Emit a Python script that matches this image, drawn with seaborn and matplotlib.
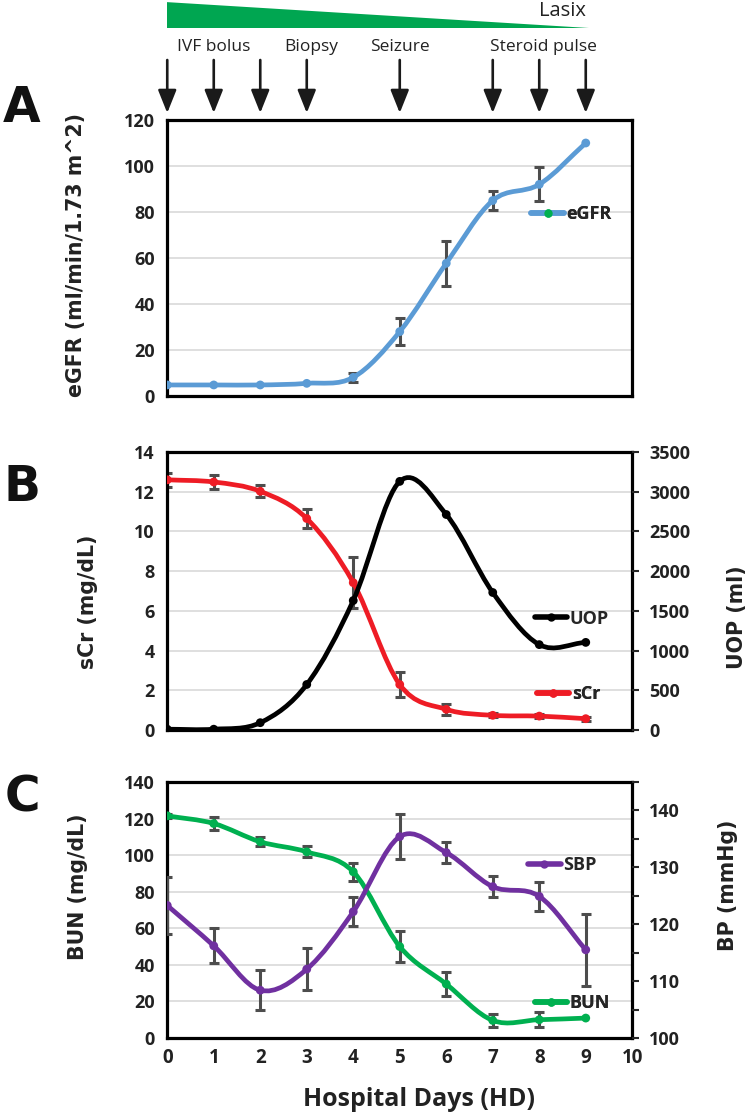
import numpy as np
import seaborn as sns
import matplotlib
matplotlib.use("Agg")
import matplotlib.pyplot as plt
from matplotlib.path import Path
from matplotlib.patches import PathPatch, Polygon
from matplotlib.lines import Line2D

# data
days = [0, 1, 2, 3, 4, 5, 6, 7, 8, 9]

egfr = [4.8, 4.8, 4.8, 5.5, 8.1, 28.0, 57.7, 85.0, 92.0, 110.0]
egfr_err = [0, 0, 0, 0, 1.8, 5.8, 9.9, 4.1, 7.4, 0]

scr = [12.6, 12.49, 12.02, 10.65, 7.42, 2.29, 1.04, 0.74, 0.70, 0.57]
scr_err = [0.36, 0.33, 0.3, 0.5, 1.29, 0.63, 0.26, 0.1, 0.1, 0.1]
uop = [10, 10, 92, 573, 1630, 3130, 2713, 1731, 1075, 1103]

bun = [121.5, 117.3, 107.3, 101.8, 90.9, 50.0, 29.5, 9.6, 10.0, 10.9]
bun_err = [1.0, 3.5, 2.5, 3.0, 5.0, 8.5, 6.8, 3.5, 4.0, 0]
sbp = [123.3, 116.2, 108.4, 112.1, 122.2, 135.4, 132.6, 126.6, 124.9, 115.5]
sbp_err = [5.0, 3.1, 3.5, 3.7, 2.6, 4.0, 1.8, 1.8, 2.5, 6.3]

arrow_days = [0, 1, 2, 3, 5, 7, 8, 9]
events = ["IVF bolus", "Biopsy", "Seizure", "Steroid pulse"]
event_days = [1.0, 3.1, 5.0, 8.1]
lasix_days = [0, 9]

sns.set_style("white")
plt.rcParams['font.family'] = ['Open Sans', 'DejaVu Sans']

c_egfr = '#5B9BD5'
c_scr = '#EE1C25'
c_uop = '#000000'
c_bun = '#00B050'
c_sbp = '#7030A0'
c_err = '#4D4D4D'
tick_col = '#222222'


def smooth_line(ax, x, y, color, lw=3.4, zorder=3):
    # excel-style smoothed line: cubic bezier through the points
    x = np.asarray(x, float)
    y = np.asarray(y, float)
    n = len(x)
    t = np.empty(n)
    t[1:-1] = (y[2:] - y[:-2]) / (x[2:] - x[:-2])
    t[0] = (y[1] - y[0]) / (x[1] - x[0])
    t[-1] = (y[-1] - y[-2]) / (x[-1] - x[-2])
    verts = [(x[0], y[0])]
    codes = [Path.MOVETO]
    for i in range(n - 1):
        h = x[i + 1] - x[i]
        verts += [(x[i] + h / 3, y[i] + t[i] * h / 3),
                  (x[i + 1] - h / 3, y[i + 1] - t[i + 1] * h / 3),
                  (x[i + 1], y[i + 1])]
        codes += [Path.CURVE4] * 3
    ax.add_patch(PathPatch(Path(verts, codes), fc='none', ec=color, lw=lw,
                           capstyle='round', joinstyle='round', zorder=zorder))


def series(ax, y, err, color, mcolor=None):
    x = np.array(days)
    y = np.array(y, float)
    if err is not None:
        e = np.array(err, float)
        m = e > 0
        ax.errorbar(x[m], y[m], yerr=e[m], fmt='none', ecolor=c_err, elinewidth=2.2,
                    capsize=3.5, capthick=2.2, zorder=2)
    smooth_line(ax, x, y, color)
    sns.scatterplot(x=x, y=y, ax=ax, color=mcolor or color, s=40, edgecolor='none',
                    zorder=4, legend=False)


def style_left(ax, ymax, step):
    ax.set_xlim(0, 10)
    ax.set_ylim(0, ymax)
    ax.set_yticks(np.arange(0, ymax + 0.01, step))
    ax.yaxis.grid(True, color='#D9D9D9', lw=1.2)
    ax.xaxis.grid(False)
    ax.set_axisbelow(True)
    for s in ax.spines.values():
        s.set_visible(True)
        s.set_color('black')
        s.set_linewidth(2.3)
    ax.tick_params(axis='y', length=0, pad=9, labelsize=13, labelcolor=tick_col)
    ax.tick_params(axis='x', length=0, pad=7, labelsize=13.5, labelcolor=tick_col)
    for lab in ax.get_yticklabels() + ax.get_xticklabels():
        lab.set_fontweight('bold')


def style_right(ax):
    for s in ax.spines.values():
        s.set_visible(False)
    ax.tick_params(axis='y', length=5, width=1.5, direction='out', pad=7, labelsize=13,
                   labelcolor=tick_col, right=True, left=False)
    for lab in ax.get_yticklabels():
        lab.set_fontweight('bold')
    ax.grid(False)


def add_legend(ax, label, color, x, y, mcolor=None):
    h = Line2D([], [], color=color, lw=4, marker='o', markersize=5,
               markerfacecolor=mcolor or color, markeredgecolor=mcolor or color)
    leg = ax.legend([h], [label], loc='center left', bbox_to_anchor=(x, y),
                    handlelength=1.8, handletextpad=0.15, borderpad=0, borderaxespad=0,
                    frameon=False, prop={'weight': 'bold', 'size': 13})
    ax.add_artist(leg)


fig = plt.figure(figsize=(7.5, 11.15), dpi=100)
L, W = 0.223, 0.620

# header: lasix taper and event arrows
axh = fig.add_axes([L, 1 - 115 / 1115, W, 115 / 1115])
axh.set_xlim(0, 10)
axh.set_ylim(115, 0)
axh.axis('off')
tri = Polygon([(lasix_days[0] - 0.04, 2), (lasix_days[0] - 0.04, 28), (lasix_days[1] + 0.06, 28)],
              closed=True, fc='#00A651', ec='none')
axh.add_patch(tri)
axh.text(lasix_days[1] - 0.5, 11, "Lasix", ha='center', va='center', fontsize=14.5, color='#222222')
for name, d in zip(events, event_days):
    axh.text(d, 47, name, ha='center', va='center', fontsize=12.5, color='#222222')
for d in arrow_days:
    axh.annotate('', xy=(d, 113), xytext=(d, 60),
                 arrowprops=dict(arrowstyle='-|>,head_length=0.7,head_width=0.28',
                                 color='#1a1a1a', lw=1.9, mutation_scale=20, shrinkA=0, shrinkB=0))

# panel A
axA = fig.add_axes([L, 1 - 396 / 1115, W, 276 / 1115])
series(axA, egfr, egfr_err, c_egfr)
style_left(axA, 120, 20)
axA.set_xticks(range(0, 11))
axA.set_xticklabels([])
add_legend(axA, "eGFR", c_egfr, 0.783, 0.66, mcolor='#00B050')

# panel B
axB = fig.add_axes([L, 1 - 730 / 1115, W, 278 / 1115])
axB2 = axB.twinx()
series(axB, scr, scr_err, c_scr)
series(axB2, uop, None, c_uop)
style_left(axB, 14, 2)
axB.set_xticks(range(0, 11))
axB.set_xticklabels([])
axB2.set_ylim(0, 3500)
axB2.set_yticks(np.arange(0, 3501, 500))
style_right(axB2)
add_legend(axB2, "UOP", c_uop, 0.79, 0.40)
add_legend(axB2, "sCr", c_scr, 0.795, 0.13)

# panel C
axC = fig.add_axes([L, 1 - 1038 / 1115, W, 256 / 1115])
axC2 = axC.twinx()
series(axC, bun, bun_err, c_bun)
series(axC2, sbp, sbp_err, c_sbp)
style_left(axC, 140, 20)
axC.set_xticks(range(0, 11))
axC.set_xticklabels([str(i) for i in range(0, 11)])
for lab in axC.get_xticklabels():
    lab.set_fontweight('bold')
axC2.set_ylim(100, 145)
bp_ticks = np.arange(100, 146, 5)
axC2.set_yticks(bp_ticks)
axC2.set_yticklabels([str(int(v)) if v % 10 == 0 else '' for v in bp_ticks])
style_right(axC2)
add_legend(axC2, "SBP", c_sbp, 0.776, 0.675)
add_legend(axC2, "BUN", c_bun, 0.79, 0.136)

# axis titles
ylab = dict(rotation=90, ha='center', va='center', fontsize=14.8, fontweight='bold',
            family='DejaVu Sans', color='#222222')
fig.text(76 / 750, 1 - 255 / 1115, "eGFR (ml/min/1.73 m^2)", **ylab)
fig.text(88 / 750, 1 - 602 / 1115, "sCr (mg/dL)", **ylab)
fig.text(737 / 750, 1 - 617 / 1115, "UOP (ml)", **ylab)
fig.text(78 / 750, 1 - 887 / 1115, "BUN (mg/dL)", **ylab)
fig.text(728 / 750, 1 - 885 / 1115, "BP (mmHg)", **ylab)
fig.text(419 / 750, 1 - 1100 / 1115, "Hospital Days (HD)", ha='center', va='center',
         fontsize=18, fontweight='bold', color='#222222')

# panel letters
for letter, yc, xc in [("A", 108, 22), ("B", 487, 22), ("C", 797, 22)]:
    fig.text(xc / 750, 1 - yc / 1115, letter, ha='center', va='center', fontsize=35,
             fontweight='heavy', family='DejaVu Sans', color='#111111')

fig.savefig("out.png", dpi=100)
